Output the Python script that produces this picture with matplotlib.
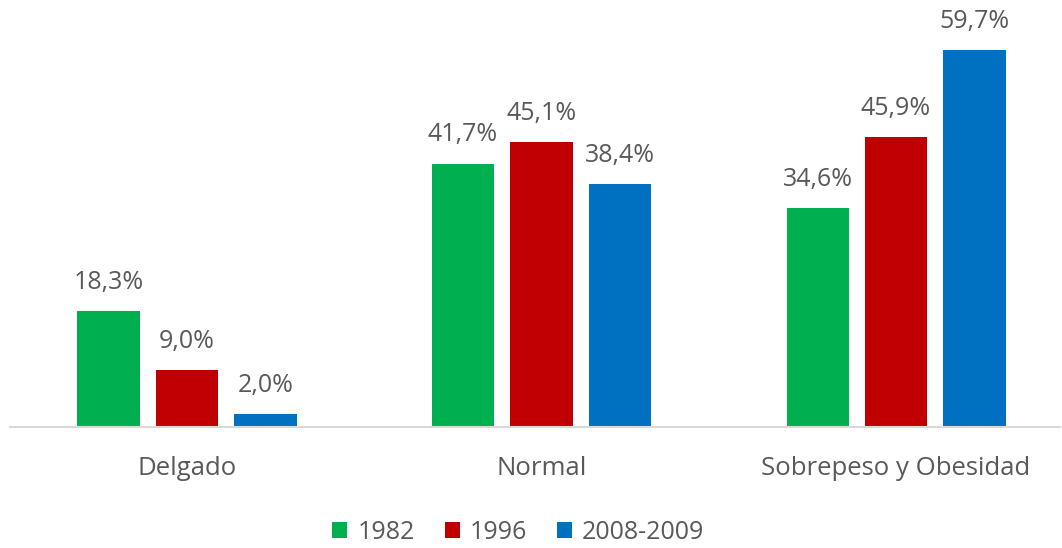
import numpy as np
import matplotlib.pyplot as plt
from matplotlib.patches import Patch

categories = ['Delgado', 'Normal', 'Sobrepeso y Obesidad']
years = ['1982', '1996', '2008-2009']
vals_1982 = [18.3, 41.7, 34.6]
vals_1996 = [9.0, 45.1, 45.9]
vals_2008 = [2.0, 38.4, 59.7]

colors = ['#00B050', '#C00000', '#0070C0']
text_color = '#595959'
plt.rcParams['font.family'] = ['Open Sans', 'DejaVu Sans']

fig = plt.figure(figsize=(10.62, 5.48), dpi=100)
ax = fig.add_axes([10 / 1062, 121 / 548, 1050 / 1062, 410.5 / 548])

x = np.arange(len(categories))
width = 0.175
step = 0.2214
series = [vals_1982, vals_1996, vals_2008]
for i, (vals, col) in enumerate(zip(series, colors)):
    pos = x + (i - 1) * step
    ax.bar(pos, vals, width=width, color=col)
    for p, v in zip(pos, vals):
        ax.text(p, v + 2.6, f'{v:.1f}%'.replace('.', ','), ha='center', va='bottom',
                fontsize=18, color=text_color)

ax.set_xlim(-0.4993, 2.4626)
ax.set_ylim(0, 65)
ax.set_yticks([])
ax.set_xticks(x)
ax.set_xticklabels(categories, fontsize=18.5, color=text_color)
ax.tick_params(axis='x', length=0, pad=21)
for s in ['top', 'right', 'left']:
    ax.spines[s].set_visible(False)
ax.spines['bottom'].set_color('#D9D9D9')
ax.spines['bottom'].set_linewidth(1.5)

handles = [Patch(facecolor=c) for c in colors]
fig.legend(handles, years, loc='lower center', ncol=3, frameon=False,
           fontsize=18, labelcolor=text_color, handlelength=0.6, handleheight=0.6,
           handletextpad=0.4, columnspacing=1.2, bbox_to_anchor=(0.488, -0.036))

plt.savefig('out.png', dpi=100)
